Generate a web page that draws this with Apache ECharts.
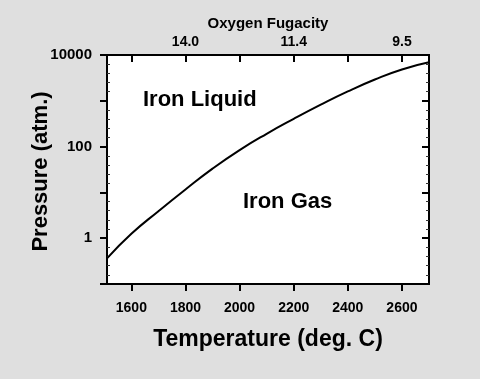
<!DOCTYPE html>
<html>
<head>
<meta charset="utf-8">
<script src="https://cdn.jsdelivr.net/npm/echarts@6/dist/echarts.min.js"></script>
<style>
html,body{margin:0;padding:0;background:#dfdfdf;}
#c{width:480px;height:379px;}
</style>
</head>
<body>
<div id="c"></div>
<script>
// Data
var temperatures = [1510, 1600, 1700, 1800, 1900, 2000, 2100, 2200, 2300, 2400, 2500, 2600, 2700];
var pressures    = [0.363, 1.25, 3.89, 11.6, 33.1, 84.1, 190.5, 403, 822, 1603, 2917, 4842, 6918];
var tempTicks = [1600, 1800, 2000, 2200, 2400, 2600];
var fugacityTickTemps = [1800, 2200, 2600];
var fugacityLabels = ['14.0', '11.4', '9.5'];
var pressureLabels = [1, 100, 10000];
var pressureMajor = [0.1, 1, 10, 100, 1000, 10000];
var regionLabels = ['Iron Liquid', 'Iron Gas'];
// minor ticks: log10 exponent range, five equal steps per decade
var minorExpMin = -1, minorExpMax = 4, minorExpStep = 1, minorSplit = 5;

var FONT = 'Liberation Sans, Arial, sans-serif';
var chart = echarts.init(document.getElementById('c'));
var data = temperatures.map(function (t, i) { return [t, pressures[i]]; });

function yAx(pos, opts) {
  var base = {
    type: 'log', logBase: 10, min: 0.1, max: 10000, position: pos,
    gridIndex: 0,
    splitLine: { show: false },
    axisLine: { show: true, onZero: false, lineStyle: { color: '#000', width: 2 } },
    axisLabel: { show: false },
    axisTick: { show: false }
  };
  for (var k in opts) base[k] = opts[k];
  return base;
}
function minorAx(pos) {
  return {
    type: 'value', min: minorExpMin, max: minorExpMax, interval: minorExpStep, position: pos, gridIndex: 0,
    splitLine: { show: false },
    axisLine: { show: true, onZero: false, lineStyle: { color: '#000', width: 2 } },
    axisLabel: { show: false },
    axisTick: { show: true, inside: true, length: 1, lineStyle: { color: '#000', width: 0, opacity: 0 } },
    minorTick: { show: true, splitNumber: minorSplit, length: 3, lineStyle: { color: '#333', width: 1 } }
  };
}

chart.setOption({
  backgroundColor: '#dfdfdf',
  animation: false,
  grid: { left: 107, right: 51, top: 55, bottom: 95, show: true, backgroundColor: '#fff', borderWidth: 0 },
  xAxis: [
    {
      type: 'value', position: 'bottom', min: 1510, max: 2700,
      splitLine: { show: false },
      axisLine: { onZero: false, lineStyle: { color: '#000', width: 2 } },
      axisTick: { show: true, customValues: tempTicks, length: 7, lineStyle: { color: '#000', width: 2 } },
      axisLabel: {
        customValues: tempTicks, margin: 17, color: '#000', fontFamily: FONT, fontWeight: 'bold', fontSize: 14,
        formatter: function (v) { return String(v); }
      },
      name: 'Temperature (deg. C)', nameLocation: 'middle', nameGap: 44, nameMoveOverlap: false,
      nameTextStyle: { color: '#000', fontFamily: FONT, fontWeight: 'bold', fontSize: 23 }
    },
    {
      type: 'value', position: 'top', min: 1510, max: 2700,
      splitLine: { show: false },
      axisLine: { onZero: false, lineStyle: { color: '#000', width: 2 } },
      axisTick: { show: true, inside: true, customValues: tempTicks, length: 7, lineStyle: { color: '#000', width: 2 } },
      axisLabel: {
        customValues: fugacityTickTemps, margin: 6, color: '#000', fontFamily: FONT, fontWeight: 'bold', fontSize: 14,
        formatter: function (v) { var i = fugacityTickTemps.indexOf(v); return i >= 0 ? fugacityLabels[i] : ''; }
      },
      name: 'Oxygen Fugacity', nameLocation: 'middle', nameGap: 24, nameMoveOverlap: false,
      nameTextStyle: { color: '#000', fontFamily: FONT, fontWeight: 'bold', fontSize: 15 }
    }
  ],
  yAxis: [
    minorAx('left'),
    minorAx('right'),
    yAx('left', {
      axisTick: { show: true, customValues: pressureMajor, length: 7, lineStyle: { color: '#000', width: 2 } },
      axisLabel: {
        show: true, customValues: pressureLabels, margin: 15, color: '#000', fontFamily: FONT, fontWeight: 'bold', fontSize: 15,
        formatter: function (v) { return String(Math.round(v)); }
      },
      name: 'Pressure (atm.)', nameLocation: 'middle', nameGap: 55, nameMoveOverlap: false,
      nameTextStyle: { color: '#000', fontFamily: FONT, fontWeight: 'bold', fontSize: 22, padding: [0, 4, 0, 0] }
    }),
    yAx('right', {
      axisTick: { show: true, inside: true, customValues: pressureMajor, length: 7, lineStyle: { color: '#000', width: 2 } }
    })
  ],
  series: [{
    type: 'line', xAxisIndex: 0, yAxisIndex: 2, data: data, smooth: 0.5,
    showSymbol: false, lineStyle: { color: '#000', width: 2 }, silent: true
  }],
  graphic: [
    { type: 'text', left: 143, top: 89, style: { text: regionLabels[0], fill: '#000', font: 'bold 22px ' + FONT } },
    { type: 'text', left: 243, top: 191, style: { text: regionLabels[1], fill: '#000', font: 'bold 22px ' + FONT } }
  ]
});
</script>
</body>
</html>
